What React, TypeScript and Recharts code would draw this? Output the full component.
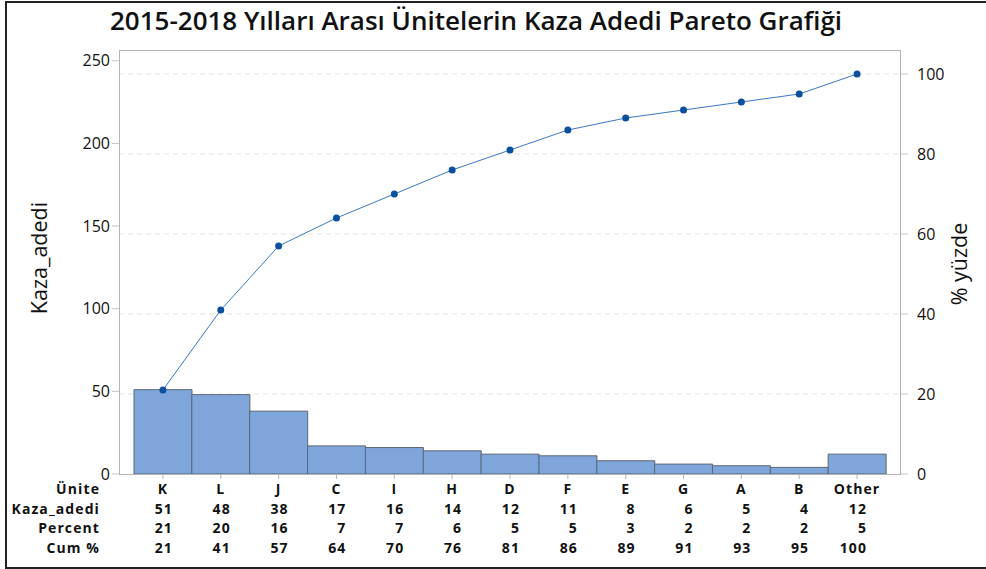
import React from "react";
import {
  ComposedChart,
  Bar,
  Line,
  XAxis,
  YAxis,
  CartesianGrid,
} from "recharts";

const units = ["K", "L", "J", "C", "I", "H", "D", "F", "E", "G", "A", "B", "Other"];
const counts = [51, 48, 38, 17, 16, 14, 12, 11, 8, 6, 5, 4, 12];
const percents = [21, 20, 16, 7, 7, 6, 5, 5, 3, 2, 2, 2, 5];
const cumPercents = [21, 41, 57, 64, 70, 76, 81, 86, 89, 91, 93, 95, 100];

const countTicks = [0, 50, 100, 150, 200, 250];
const pctTicks = [0, 20, 40, 60, 80, 100];
const rowLabels = ["Ünite", "Kaza_adedi", "Percent", "Cum %"];

const FONT = "'Open Sans', 'Noto Sans', sans-serif";

const data = units.map((name, i) => ({
  name,
  count: counts[i],
  pct: percents[i],
  cum: cumPercents[i],
}));

const rowY = [494, 513.5, 533, 552.5];

const TableTick = (props: any) => {
  const { x, index } = props;
  const i = index;
  const d = data[i];
  if (!d) return null;
  const style = {
    fontFamily: FONT,
    fontSize: 14,
    fontWeight: 700,
    letterSpacing: 1.1,
    fill: "#111",
  };
  return (
    <g>
      {i === 0 &&
        rowLabels.map((t, r) => (
          <text key={t} x={100} y={rowY[r]} textAnchor="end" style={style}>
            {t}
          </text>
        ))}
      <text x={x} y={rowY[0]} textAnchor="middle" style={style}>
        {d.name}
      </text>
      <text x={x + 10} y={rowY[1]} textAnchor="end" style={style}>
        {d.count}
      </text>
      <text x={x + 10} y={rowY[2]} textAnchor="end" style={style}>
        {d.pct}
      </text>
      <text x={x + 10} y={rowY[3]} textAnchor="end" style={style}>
        {d.cum}
      </text>
    </g>
  );
};

export default function App() {
  const tickStyle = { fontFamily: FONT, fontSize: 16, fill: "#111" };
  return (
    <div style={{ position: "fixed", left: 0, top: 0, width: 986, height: 569, background: "#fff" }}>
      <div
        style={{
          position: "absolute",
          left: 5,
          top: 1,
          width: 990,
          height: 564,
          borderLeft: "2px solid #222",
          borderTop: "2px solid #222",
          borderBottom: "2px solid #222",
        }}
      />
      <div
        style={{
          position: "absolute",
          left: 476,
          top: 20,
          transform: "translate(-50%, -50%)",
          fontFamily: FONT,
          fontWeight: 600,
          fontSize: 26,
          whiteSpace: "nowrap",
          color: "#111",
        }}
      >
        2015-2018 Yılları Arası Ünitelerin Kaza Adedi Pareto Grafiği
      </div>
      <ComposedChart
        width={986}
        height={569}
        data={data}
        margin={{ top: 50, right: 0, bottom: 90, left: 0 }}
        barCategoryGap={0}
        barGap={0}
      >
        <CartesianGrid
          yAxisId="right"
          vertical={false}
          stroke="#e2e2e2"
          strokeDasharray="5 4"
          horizontalValues={[20, 40, 60, 80, 100]}
        />
        <XAxis
          dataKey="name"
          height={5}
          padding={{ left: 15, right: 15 }}
          axisLine={false}
          tickLine={{ stroke: "#b4b4b4" }}
          tickSize={5}
          tick={<TableTick />}
          interval={0}
        />
        <YAxis
          yAxisId="left"
          orientation="left"
          width={119}
          domain={[0, 256.5]}
          ticks={countTicks}
          axisLine={false}
          tickLine={{ stroke: "#c4c4c4" }}
          tickSize={7}
          tickMargin={2}
          tick={tickStyle}
          allowDataOverflow
        />
        <YAxis
          yAxisId="right"
          orientation="right"
          width={85}
          domain={[0, 106]}
          ticks={pctTicks}
          axisLine={false}
          tickLine={{ stroke: "#c4c4c4" }}
          tickSize={7}
          tickMargin={9}
          tick={{ ...tickStyle, textAnchor: "start" }}
          allowDataOverflow
        />
        <Bar
          yAxisId="left"
          dataKey="count"
          fill="#7ea6da"
          stroke="#5b6675"
          strokeWidth={1}
          isAnimationActive={false}
        />
        <Line
          yAxisId="right"
          dataKey="cum"
          type="linear"
          stroke="#3a78c4"
          strokeWidth={1}
          dot={{ r: 3.5, fill: "#0b4f9f", stroke: "#0b4f9f", strokeWidth: 0 }}
          isAnimationActive={false}
        />
      </ComposedChart>
      <div
        style={{
          position: "absolute",
          left: 119,
          top: 50,
          width: 782,
          height: 425,
          border: "1px solid #b4b4b4",
          boxSizing: "border-box",
          pointerEvents: "none",
        }}
      />
      <div
        style={{
          position: "absolute",
          left: 38,
          top: 258,
          transform: "translate(-50%, -50%) rotate(-90deg)",
          fontFamily: FONT,
          fontSize: 21.5,
          fontWeight: 500,
          whiteSpace: "nowrap",
          color: "#111",
        }}
      >
        Kaza_adedi
      </div>
      <div
        style={{
          position: "absolute",
          left: 958,
          top: 264,
          transform: "translate(-50%, -50%) rotate(-90deg)",
          fontFamily: FONT,
          fontSize: 21.5,
          fontWeight: 500,
          whiteSpace: "nowrap",
          color: "#111",
        }}
      >
        % yüzde
      </div>
    </div>
  );
}
